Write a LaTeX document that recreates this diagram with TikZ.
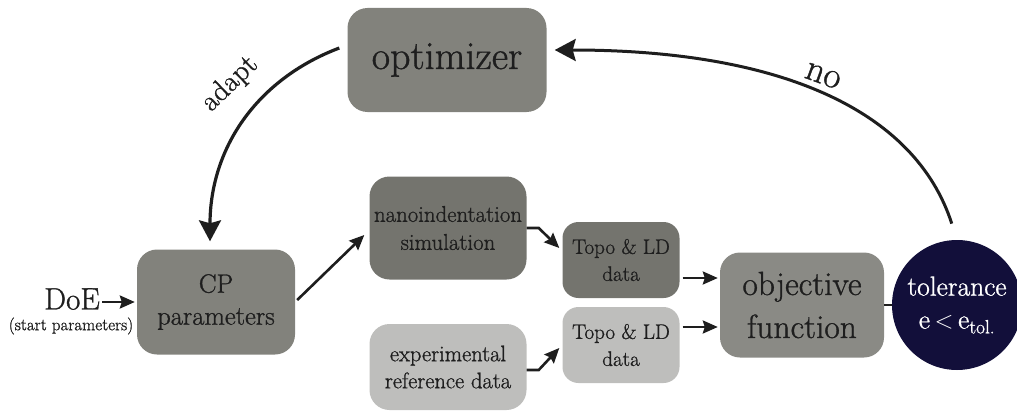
\documentclass[tikz,border=0pt]{standalone}
\usepackage{fontspec}
\setmainfont{Latin Modern Roman}[FakeBold=1.0]
\usetikzlibrary{arrows.meta}
\definecolor{gA}{RGB}{130,130,124}
\definecolor{gC}{RGB}{116,116,110}
\definecolor{gObj}{RGB}{138,138,133}
\definecolor{gL}{RGB}{190,190,188}
\definecolor{navy}{RGB}{18,15,58}
\definecolor{ink}{RGB}{30,30,30}
\begin{document}
\begin{tikzpicture}[x=1pt,y=-1pt,
  box/.style={rectangle, rounded corners=20pt, inner sep=0pt, align=center, text=ink},
  arr/.style={-{Stealth[length=15pt,width=13pt,inset=2pt]}, line width=2.6pt, ink},
  bigarr/.style={-{Stealth[length=21pt,width=22pt,inset=3pt]}, line width=3.2pt, ink},
  lbl/.style={text=ink, inner sep=0pt}]
\useasboundingbox (0,0) rectangle (1017,412);
\node[box, fill=gA, minimum width=199, minimum height=104, font=\fontsize{40}{46}\selectfont] (opt) at (447,60) {optimizer};
\node[box, fill=gA, minimum width=158, minimum height=105, font=\fontsize{26.5}{32}\selectfont] (cp) at (216,302) {CP\\parameters};
\node[box, fill=gC, minimum width=157, minimum height=103, font=\fontsize{22.8}{28}\selectfont] (nano) at (448,228) {nanoindentation\\simulation};
\node[box, fill=gC, minimum width=117, minimum height=76, rounded corners=16pt, font=\fontsize{21}{27}\selectfont] (t1) at (621,260) {Topo \& LD\\data};
\node[box, fill=gL, minimum width=117, minimum height=76, rounded corners=16pt, font=\fontsize{21}{27}\selectfont] (t2) at (621,345) {Topo \& LD\\data};
\node[box, fill=gL, minimum width=157, minimum height=86, font=\fontsize{22.5}{27}\selectfont] (exp) at (448,367) {experimental\\reference data};
\node[box, fill=gObj, minimum width=164, minimum height=105, font=\fontsize{33.5}{43}\selectfont] (obj) at (802,305) {objective\\function};
\node[circle, fill=navy, minimum size=130pt, inner sep=0pt, align=center, text=white, font=\fontsize{27.5}{33}\selectfont] (tol) at (957,305) {tolerance\\e\,$<$\,e\textsubscript{tol.}};
\node[lbl, font=\fontsize{31}{36}\selectfont] (doe) at (72,299) {DoE};
\node[lbl, font=\fontsize{17}{20}\selectfont] (start) at (71,326) {(start parameters)};
% connectors
\draw[arr, shorten <=2pt, shorten >=2pt] ([yshift=-3pt]doe.east) -- (cp.west);
\draw[arr] ([xshift=2pt,yshift=2pt]cp.east) -- ([xshift=-5pt,yshift=-7pt]nano.west);
\draw[arr] (nano.east) -- ++(12,0) -- ([xshift=-3pt,yshift=12pt]t1.west);
\draw[arr] ([yshift=-3pt]exp.east) -- ++(12,0) -- ([xshift=-3pt,yshift=-3pt]t2.west);
\draw[arr, shorten <=3pt, shorten >=2pt] ([yshift=-18pt]t1.east) -- ([yshift=27pt]obj.west);
\draw[arr, shorten <=3pt, shorten >=2pt] ([yshift=18pt]t2.east) -- ([yshift=-22pt]obj.west);
\draw[line width=2.6pt, ink] (obj.east) -- (tol.west);
\draw[bigarr, line width=3pt, shorten <=17pt] (tol.north) .. controls (915,110) and (780,50) .. ([xshift=8pt,yshift=10pt]opt.east);
\draw[bigarr] ([xshift=-8pt,yshift=12pt]opt.west) .. controls (255,80) and (210,150) .. ([xshift=-6pt,yshift=8pt]cp.north);
\node[lbl, rotate=44, font=\fontsize{29}{32}\selectfont] (adapt) at (230,84) {adapt};
\node[lbl, rotate=-20, font=\fontsize{37}{40}\selectfont] (no) at (823,76) {no};
\end{tikzpicture}
\end{document}
